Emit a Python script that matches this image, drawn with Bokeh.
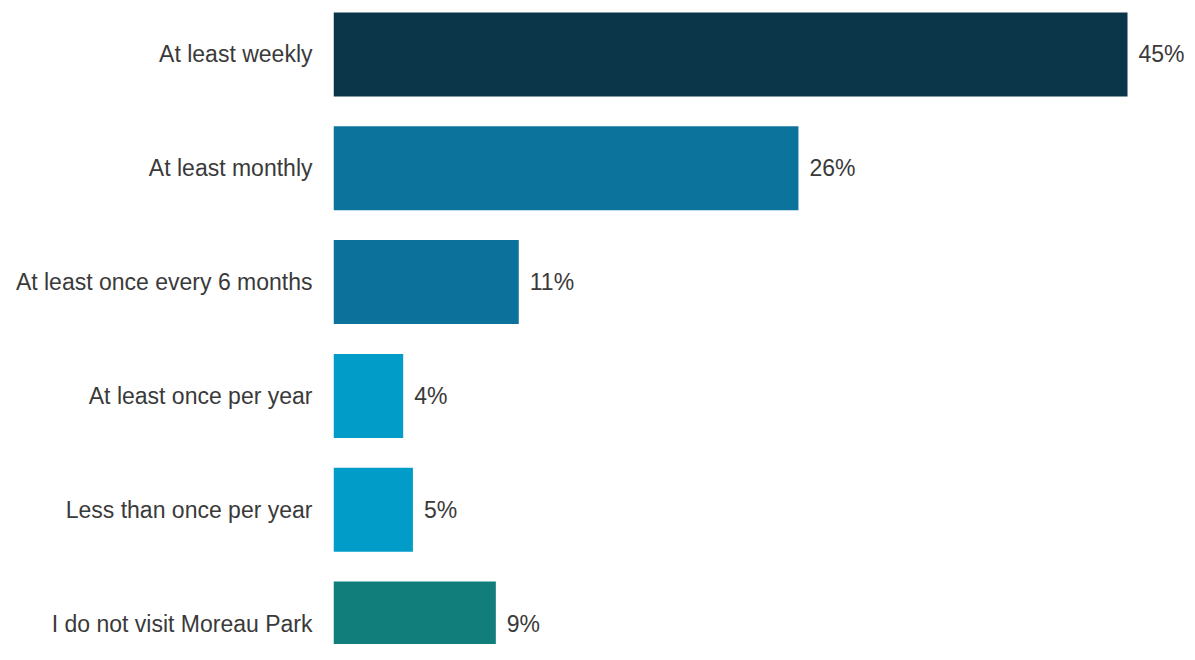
import numpy as np
from bokeh.plotting import figure
from bokeh.models import ColumnDataSource, Range1d, FixedTicker
from bokeh.embed import file_html
from bokeh.resources import INLINE
from bokeh.core.properties import value

categories = [
    "At least weekly",
    "At least monthly",
    "At least once every 6 months",
    "At least once per year",
    "Less than once per year",
    "I do not visit Moreau Park",
]
values = [45.0, 26.35, 10.5, 3.95, 4.5, 9.2]
labels = ["45%", "26%", "11%", "4%", "5%", "9%"]
colors = ["#0b3649", "#0c739c", "#0c729b", "#019cc7", "#019cc7", "#127e7b"]

ypos = np.arange(len(categories))
src = ColumnDataSource(dict(y=ypos, v=values, lab=labels, c=colors))

p = figure(
    width=1187, height=644, output_backend="svg", toolbar_location=None,
    x_range=Range1d(0, 48.40), y_range=Range1d(5.1845, -0.4745),
    min_border_left=333, min_border_right=0, min_border_top=0, min_border_bottom=0,
)
p.hbar(y="y", right="v", left=0, height=0.738, fill_color="c", line_color=None, source=src)
p.text(x="v", y="y", text="lab", source=src, x_offset=11, text_baseline="middle",
       text_align="left", text_font=value("Liberation Sans"), text_font_size="23px",
       text_color="#3a3a3a")

p.xaxis.visible = False
yax = p.yaxis[0]
yax.ticker = FixedTicker(ticks=list(ypos))
yax.major_label_overrides = {int(i): c for i, c in zip(ypos, categories)}
yax.axis_line_color = None
yax.major_tick_line_color = None
yax.minor_tick_line_color = None
yax.major_tick_out = 0
yax.major_tick_in = 0
yax.major_label_standoff = 21
yax.major_label_text_font = "Liberation Sans"
yax.major_label_text_font_size = "23px"
yax.major_label_text_color = "#3a3a3a"

p.xgrid.grid_line_color = None
p.ygrid.grid_line_color = None
p.outline_line_color = None

open("out.html", "w").write(file_html(p, INLINE))
